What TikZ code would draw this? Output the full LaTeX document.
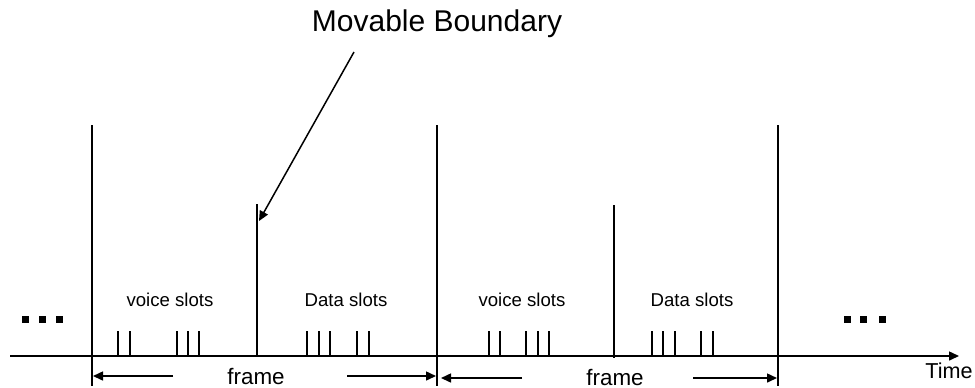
\documentclass[tikz,border=0pt]{standalone}
\usepackage{fontspec}
\setmainfont{Liberation Sans}
\usetikzlibrary{arrows.meta}
\begin{document}
\begin{tikzpicture}[x=0.5pt,y=-0.5pt,line width=0.75pt,
  tip/.style={-{Triangle[length=5pt,width=4.5pt]}},
  lbl/.style={inner sep=0pt,font=\fontsize{9.3pt}{10pt}\selectfont}]
\useasboundingbox (0,0) rectangle (975,387);
% frame edges and boundaries
\coordinate (fa) at (92,125); \coordinate (fa0) at (92,386);
\coordinate (fb) at (437,125); \coordinate (fb0) at (437,386);
\coordinate (fc) at (778,125); \coordinate (fc0) at (778,386);
\coordinate (mb1) at (257,204); \coordinate (mb10) at (257,356);
\coordinate (mb2) at (614,205); \coordinate (mb20) at (614,358);
\draw[](fa) -- (fa0);
\draw[](fb) -- (fb0);
\draw[](fc) -- (fc0);
\draw[](mb1) -- (mb10);
\draw[](mb2) -- (mb20);
% time axis
\coordinate (t0) at (10,356);
\node[inner sep=0pt, font=\fontsize{10.8pt}{12pt}\selectfont] (time) at (949,371){Time};
\coordinate (t1) at (959,356);
\draw[tip](t0) -- (t1);
% slots
\draw (118,331) -- (118,356) (130,331) -- (130,356)
      (177,331) -- (177,356) (188,331) -- (188,356) (199,331) -- (199,356);
\draw (307,331) -- (307,356) (319,331) -- (319,356) (330,331) -- (330,356)
      (357,331) -- (357,356) (369,331) -- (369,356);
\draw (489,331) -- (489,356) (500,331) -- (500,356)
      (526,331) -- (526,356) (538,331) -- (538,356) (549,331) -- (549,356);
\draw (652,331) -- (652,356) (663,331) -- (663,356) (675,331) -- (675,356)
      (701,331) -- (701,356) (713,331) -- (713,356);
\node[lbl] (vs1) at (170,300){voice slots};
\node[lbl] (ds1) at (346,300){Data slots};
\node[lbl] (vs2) at (522,300){voice slots};
\node[lbl] (ds2) at (692,300){Data slots};
% dots
\foreach \d in {25,42.5,59.5,847,863.5,882}
  \fill (\d-3.5,0) ++(0,316) rectangle ++(7,7);
% frame arrows
\node[inner sep=0pt, font=\fontsize{11.2pt}{12pt}\selectfont] (fr1) at (256,376){frame};
\node[inner sep=0pt, font=\fontsize{11.2pt}{12pt}\selectfont] (fr2) at (615,377){frame};
\coordinate (a1) at (173,376); \coordinate (a1e) at (93,376);
\coordinate (a2) at (347,376); \coordinate (a2e) at (436,376);
\coordinate (a3) at (522,378); \coordinate (a3e) at (441,378);
\coordinate (a4) at (693,378); \coordinate (a4e) at (777,378);
\draw[tip](a1) -- (a1e);
\draw[tip](a2) -- (a2e);
\draw[tip](a3) -- (a3e);
\draw[tip](a4) -- (a4e);
% movable boundary
\node[inner sep=0pt, font=\fontsize{15pt}{17pt}\selectfont] (mov) at (437,24){Movable Boundary};
\coordinate (mv0) at (354,52);
\draw[tip](mv0) -- (259,221);
\end{tikzpicture}
\end{document}
